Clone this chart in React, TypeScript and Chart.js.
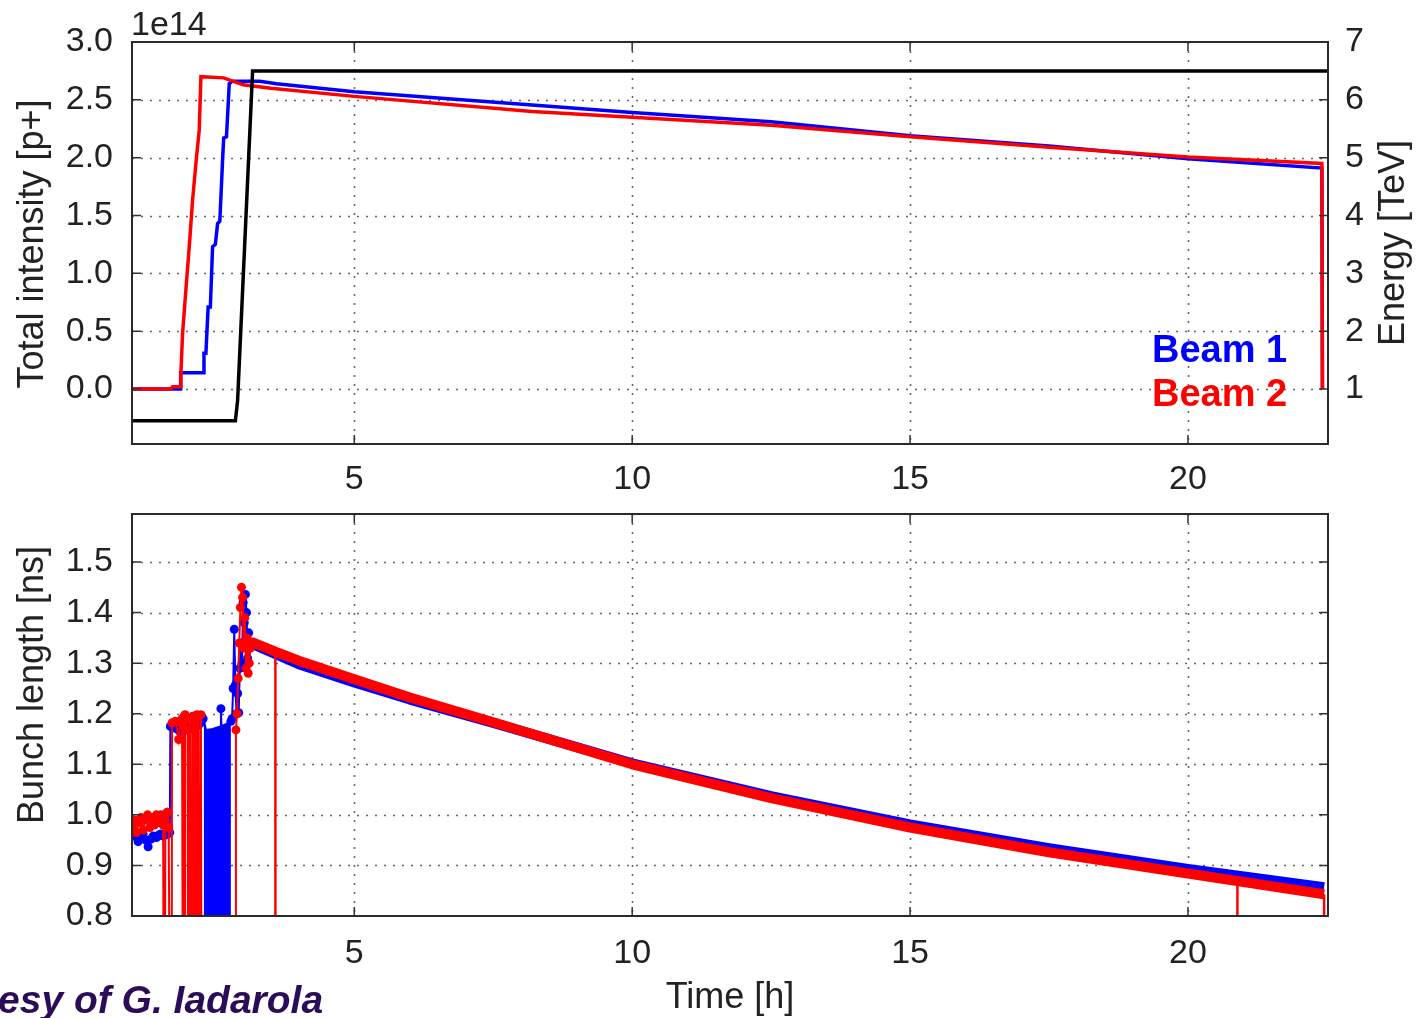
import React, { useEffect, useRef } from "react";
import { Chart, registerables } from "chart.js";

Chart.register(...registerables);

// ---------- tick values ----------
const timeTicks = [5, 10, 15, 20];
const intensityTicks = [0, 0.5, 1.0, 1.5, 2.0, 2.5, 3.0];
const energyTicks = [1, 2, 3, 4, 5, 6, 7];
const lengthTicks = [0.8, 0.9, 1.0, 1.1, 1.2, 1.3, 1.4, 1.5];

// ---------- top panel: energy [TeV] ----------
const energyTime = [1.0, 2.86, 2.9, 3.17, 22.52];
const energyTeV = [0.45, 0.45, 0.8, 6.5, 6.5];

// ---------- top panel: total intensity [1e14 p+] ----------
const b1IntTime = [1.0, 1.87, 1.875, 2.29, 2.295, 2.33, 2.37, 2.41, 2.45, 2.5, 2.54, 2.58, 2.63, 2.65, 2.7, 2.75, 2.8, 3.3, 3.6, 5, 8.2, 10, 12.5, 15, 17.5, 20, 22.41, 22.42];
const b1Int = [0, 0, 0.14, 0.14, 0.31, 0.31, 0.71, 0.71, 1.23, 1.25, 1.43, 1.45, 1.98, 2.17, 2.18, 2.64, 2.66, 2.66, 2.64, 2.57, 2.455, 2.39, 2.31, 2.19, 2.1, 1.99, 1.91, 0];

const b2IntTime = [1.0, 1.7, 1.73, 1.87, 1.88, 1.91, 1.97, 2.03, 2.09, 2.15, 2.21, 2.24, 2.65, 3.0, 3.5, 5, 8.2, 10, 12.5, 15, 17.5, 20, 22.41, 22.42];
const b2Int = [0, 0, 0.02, 0.02, 0.14, 0.48, 0.86, 1.23, 1.63, 1.95, 2.24, 2.7, 2.69, 2.63, 2.6, 2.53, 2.4, 2.35, 2.28, 2.18, 2.09, 2.005, 1.95, 0];

// ---------- bottom panel: bunch length [ns] ----------
const b1EarlyTime = [1.0, 1.04, 1.08, 1.11, 1.16, 1.2, 1.25, 1.29, 1.34, 1.38, 1.44, 1.48, 1.52, 1.56, 1.6, 1.64, 1.68, 1.69, 1.74, 1.8, 1.86, 1.92, 1.98, 2.04, 2.1, 2.16, 2.22, 2.28, 2.5, 2.78, 2.8, 2.82, 2.84, 2.86, 2.88, 2.9, 2.92, 2.94, 2.96, 2.98, 3.0, 3.02, 3.04, 3.06, 3.08, 3.1, 3.12];
const b1Early = [0.965, 0.958, 0.962, 0.947, 0.955, 0.962, 0.95, 0.937, 0.952, 0.958, 0.955, 0.96, 0.962, 0.958, 0.96, 0.962, 0.965, 1.175, 1.18, 1.17, 1.165, 1.17, 1.175, 1.17, 1.18, 1.175, 1.18, 1.19, null, 1.185, 1.19, 1.25, 1.367, 1.257, 1.2, 1.24, 1.202, 1.29, 1.34, 1.3, 1.42, 1.38, 1.436, 1.4, 1.31, 1.36, 1.34];

const b1BlockTime = [2.29, 2.33, 2.45, 2.59, 2.6, 2.61, 2.78];
const b1Block = [1.19, 1.168, 1.17, 1.175, 1.21, 1.175, 1.185];

const b1DecayTime = [3.12, 4, 5, 6, 7.5, 10, 12.5, 15, 17.5, 20, 22.45];
const b1Decay = [1.34, 1.298, 1.262, 1.228, 1.182, 1.102, 1.037, 0.981, 0.934, 0.893, 0.857];

const b2EarlyTime = [1.0, 1.04, 1.08, 1.12, 1.16, 1.2, 1.24, 1.28, 1.32, 1.36, 1.4, 1.44, 1.48, 1.52, 1.56, 1.585, 1.6, 1.63, 1.66, 1.71, 1.72, 1.78, 1.84, 1.87, 1.9, 1.93, 1.935, 1.95, 1.955, 1.98, 2.0, 2.02, 2.03, 2.04, 2.05, 2.08, 2.09, 2.11, 2.12, 2.14, 2.16, 2.17, 2.19, 2.2, 2.23, 2.24, 2.26, 2.5, 2.86, 2.87, 2.89, 2.91, 2.93, 2.95, 2.97, 2.99, 3.01, 3.03, 3.05, 3.07, 3.09, 3.11, 3.13, 3.15];
const b2Early = [0.975, 0.99, 0.965, 0.985, 0.995, 0.97, 0.99, 1.0, 0.975, 0.995, 0.98, 1.0, 0.985, 1.0, 0.98, 0, 0.99, 1.005, 0.975, 0, 1.182, 1.185, 1.149, 1.182, 1.19, 0, 1.195, 0, 1.198, 1.17, 1.168, 0, 1.188, 0, 1.19, 0, 1.195, 0, 1.195, 1.19, 0, 1.198, 0, 1.195, 0, 1.198, 0, null, 0, 1.168, 1.2, 1.27, 1.34, 1.41, 1.45, 1.43, 1.33, 1.39, 1.29, 1.35, 1.28, 1.3, 1.33, 1.342];

const b2DecayTime = [3.15, 3.6, 4, 5, 6, 7.5, 10, 12.5, 15, 17.5, 20, 22.45];
const b2Decay = [1.342, 1.322, 1.305, 1.268, 1.232, 1.183, 1.1, 1.033, 0.975, 0.926, 0.884, 0.843];

const b2DropTime = [3.58, 20.89, 22.45];
const b2DropTop = [1.317, 0.872, 0.843];

// ---------- styling ----------
const FONT = "'Liberation Sans', Arial, sans-serif";
const INK = "#222";
const BLUE = "#0000ff";
const RED = "#ff0000";

const zip = (xs: number[], ys: (number | null)[]) => xs.map((x, i) => ({ x, y: ys[i] }));
const drops = (ts: number[], tops: number[]) =>
  ts.flatMap((t, i) => [
    { x: t, y: tops[i] as number | null },
    { x: t, y: 0 as number | null },
    { x: t, y: null as number | null },
  ]);
const fixTicks = (vals: number[]) => (s: any) => {
  s.ticks = vals.map((v) => ({ value: v }));
};

function rotatedText(ctx: CanvasRenderingContext2D, text: string, baseX: number, centerY: number, size: number) {
  ctx.save();
  ctx.translate(baseX, centerY);
  ctx.rotate(-Math.PI / 2);
  ctx.font = `${size}px ${FONT}`;
  ctx.fillStyle = INK;
  ctx.textAlign = "center";
  ctx.textBaseline = "alphabetic";
  ctx.fillText(text, 0, 0);
  ctx.restore();
}

function panelPlugin(leftId: string, rightId: string | null, texts: (ctx: CanvasRenderingContext2D, chart: any) => void) {
  return {
    id: "panelFrame",
    beforeDatasetsDraw(chart: any) {
      const { ctx, chartArea: a } = chart;
      const xs = chart.scales.x;
      const ys = chart.scales[leftId];
      ctx.save();
      ctx.beginPath();
      ctx.rect(a.left, a.top, a.right - a.left, a.bottom - a.top);
      ctx.clip();
      ctx.strokeStyle = "#666";
      ctx.lineWidth = 1.6;
      ctx.setLineDash([2, 7]);
      ctx.beginPath();
      for (const t of xs.ticks) {
        const p = Math.round(xs.getPixelForValue(t.value)) + 0.5;
        ctx.moveTo(p, a.top);
        ctx.lineTo(p, a.bottom);
      }
      for (const t of ys.ticks) {
        const p = Math.round(ys.getPixelForValue(t.value)) + 0.5;
        if (p <= a.top + 2 || p >= a.bottom - 2) continue;
        ctx.moveTo(a.left, p);
        ctx.lineTo(a.right, p);
      }
      ctx.stroke();
      ctx.restore();
    },
    afterDatasetsDraw(chart: any) {
      const { ctx, chartArea: a } = chart;
      const xs = chart.scales.x;
      const ys = chart.scales[leftId];
      const rs = rightId ? chart.scales[rightId] : ys;
      const L = 9;
      ctx.save();
      ctx.setLineDash([]);
      ctx.strokeStyle = "#333";
      ctx.lineWidth = 1.5;
      ctx.beginPath();
      for (const t of xs.ticks) {
        const p = xs.getPixelForValue(t.value);
        ctx.moveTo(p, a.bottom);
        ctx.lineTo(p, a.bottom - L);
        ctx.moveTo(p, a.top);
        ctx.lineTo(p, a.top + L);
      }
      for (const t of ys.ticks) {
        const p = ys.getPixelForValue(t.value);
        ctx.moveTo(a.left, p);
        ctx.lineTo(a.left + L, p);
      }
      for (const t of rs.ticks) {
        const p = rs.getPixelForValue(t.value);
        ctx.moveTo(a.right, p);
        ctx.lineTo(a.right - L, p);
      }
      ctx.stroke();
      ctx.lineWidth = 2;
      ctx.strokeStyle = "#2a2a2a";
      ctx.strokeRect(a.left, a.top, a.right - a.left, a.bottom - a.top);
      ctx.restore();
    },
    afterDraw(chart: any) {
      texts(chart.ctx, chart);
    },
  };
}

const tickFont = { family: FONT, size: 34 };
const hiddenGrid = { display: false, drawTicks: false };
const noBorder = { display: false };

function xAxis(height: number, pad: number, title?: string) {
  return {
    type: "linear" as const,
    min: 1.0,
    max: 22.52,
    grid: hiddenGrid,
    border: noBorder,
    afterBuildTicks: fixTicks(timeTicks),
    afterFit: (s: any) => {
      s.height = height;
      s.paddingLeft = 0;
      s.paddingRight = 0;
    },
    ticks: { font: tickFont, color: INK, padding: pad, autoSkip: false, maxRotation: 0, callback: (v: any) => String(v) },
    title: title
      ? { display: true, text: title, font: { family: FONT, size: 36, lineHeight: 1.1 }, color: INK, padding: { top: 0, bottom: 0 } }
      : { display: false },
  };
}

function yAxis(position: "left" | "right", min: number, max: number, vals: number[], width: number, pad: number, digits: number) {
  return {
    type: "linear" as const,
    position,
    min,
    max,
    grid: hiddenGrid,
    border: noBorder,
    afterBuildTicks: fixTicks(vals),
    afterFit: (s: any) => {
      s.width = width;
      s.paddingTop = 0;
      s.paddingBottom = 0;
    },
    ticks: { font: tickFont, color: INK, padding: pad, autoSkip: false, callback: (v: any) => Number(v).toFixed(digits) },
  };
}

export default function App() {
  const topRef = useRef<HTMLCanvasElement>(null);
  const botRef = useRef<HTMLCanvasElement>(null);

  useEffect(() => {
    const top = new Chart(topRef.current as HTMLCanvasElement, {
      type: "line",
      data: {
        datasets: [
          { label: "Energy", data: zip(energyTime, energyTeV), yAxisID: "y2", borderColor: "#000", borderWidth: 3.5, pointRadius: 0, order: 0 },
          { label: "Beam 2", data: zip(b2IntTime, b2Int), yAxisID: "y", borderColor: RED, borderWidth: 3.5, pointRadius: 0, order: 1 },
          { label: "Beam 1", data: zip(b1IntTime, b1Int), yAxisID: "y", borderColor: BLUE, borderWidth: 3.5, pointRadius: 0, order: 2 },
        ] as any,
      },
      options: {
        animation: false,
        responsive: false,
        events: [],
        layout: { padding: { top: 42, left: 0, right: 0, bottom: 0 } },
        plugins: { legend: { display: false }, tooltip: { enabled: false } },
        scales: {
          x: xAxis(56, 15) as any,
          y: yAxis("left", -0.475, 3.0, intensityTicks, 132, 19, 1) as any,
          y2: yAxis("right", 0.05, 7.0, energyTicks, 91, 17, 0) as any,
        },
      },
      plugins: [
        panelPlugin("y", "y2", (ctx) => {
          ctx.save();
          ctx.font = `34px ${FONT}`;
          ctx.fillStyle = INK;
          ctx.textAlign = "left";
          ctx.textBaseline = "alphabetic";
          ctx.fillText("1e14", 131, 35);
          ctx.font = "bold 38px 'Liberation Sans', Arial, sans-serif";
          ctx.fillStyle = BLUE;
          ctx.fillText("Beam 1", 1152, 362);
          ctx.fillStyle = RED;
          ctx.fillText("Beam 2", 1152, 406);
          ctx.restore();
          rotatedText(ctx, "Total intensity [p+]", 43, 244, 36);
          rotatedText(ctx, "Energy [TeV]", 1404, 243, 36);
        }) as any,
      ],
    });

    const bot = new Chart(botRef.current as HTMLCanvasElement, {
      type: "line",
      data: {
        datasets: [
          { label: "Beam 2 dropouts", data: drops(b2DropTime, b2DropTop), borderColor: RED, borderWidth: 2.5, pointRadius: 0, order: 0 },
          { label: "Beam 2", data: zip(b2EarlyTime, b2Early), borderColor: RED, borderWidth: 2, pointRadius: 4.5, pointBackgroundColor: RED, pointBorderWidth: 0, order: 1 },
          { label: "Beam 2 decay", data: zip(b2DecayTime, b2Decay), borderColor: RED, borderWidth: 10, pointRadius: 0, borderJoinStyle: "round", order: 1 },
          { label: "Beam 1 decay", data: zip(b1DecayTime, b1Decay), borderColor: BLUE, borderWidth: 10, pointRadius: 0, borderJoinStyle: "round", order: 2 },
          { label: "Beam 1", data: zip(b1EarlyTime, b1Early), borderColor: BLUE, borderWidth: 2, pointRadius: 4.5, pointBackgroundColor: BLUE, pointBorderWidth: 0, order: 2 },
          {
            label: "Beam 1 block",
            data: zip(b1BlockTime, b1Block),
            borderColor: BLUE,
            backgroundColor: BLUE,
            borderWidth: 2,
            fill: "start",
            pointRadius: (c: any) => (c.dataIndex === 4 ? 4.5 : 0),
            pointBackgroundColor: BLUE,
            pointBorderWidth: 0,
            order: 3,
          },
        ] as any,
      },
      options: {
        animation: false,
        responsive: false,
        events: [],
        layout: { padding: { top: 14, left: 0, right: 91, bottom: 0 } },
        plugins: { legend: { display: false }, tooltip: { enabled: false } },
        scales: {
          x: xAxis(102, 17, "Time [h]") as any,
          y: yAxis("left", 0.8, 1.595, lengthTicks, 132, 19, 1) as any,
        },
      },
      plugins: [
        panelPlugin("y", null, (ctx) => {
          rotatedText(ctx, "Bunch length [ns]", 43, 185, 36);
          ctx.save();
          ctx.font = "italic bold 39px 'Liberation Sans', Arial, sans-serif";
          ctx.fillStyle = "#2a0c58";
          ctx.textAlign = "left";
          ctx.textBaseline = "alphabetic";
          ctx.fillText("esy of G. Iadarola", -2, 513);
          ctx.restore();
        }) as any,
      ],
    });

    return () => {
      top.destroy();
      bot.destroy();
    };
  }, []);

  return (
    <div style={{ position: "absolute", left: 0, top: 0, width: 1419, height: 1018, background: "#fff", overflow: "hidden" }}>
      <canvas ref={topRef} width={1419} height={500} style={{ position: "absolute", left: 0, top: 0 }} />
      <canvas ref={botRef} width={1419} height={518} style={{ position: "absolute", left: 0, top: 500 }} />
    </div>
  );
}
